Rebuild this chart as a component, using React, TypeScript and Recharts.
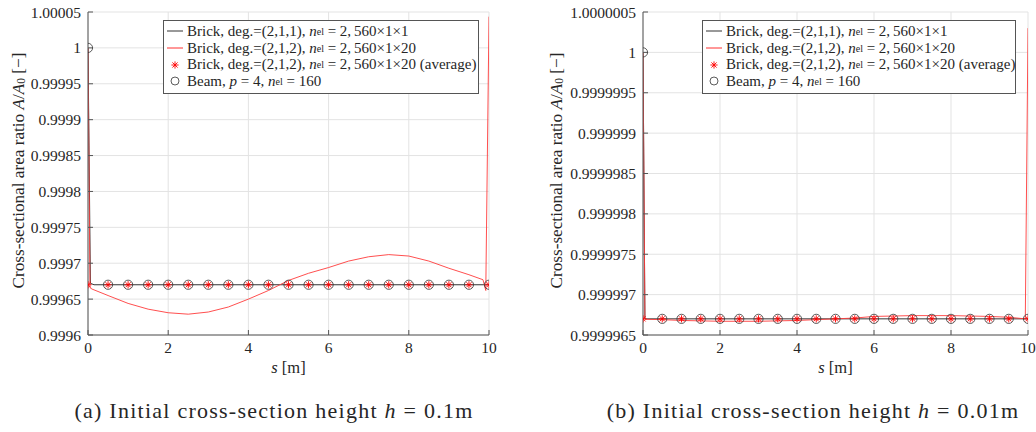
import {
  CartesianGrid,
  ComposedChart,
  Legend,
  Line,
  Scatter,
  XAxis,
  YAxis,
} from "recharts";

const FONT = "'Liberation Serif', 'Times New Roman', serif";
const AXIS_COLOR = "#555";
const TEXT_COLOR = "#262626";

const sTicks = [0, 2, 4, 6, 8, 10];
const sampleS = [0, 0.5, 1, 1.5, 2, 2.5, 3, 3.5, 4, 4.5, 5, 5.5, 6, 6.5, 7, 7.5, 8, 8.5, 9, 9.5, 10];

// (a) h = 0.1 m
const yTicksA = [0.9996, 0.99965, 0.9997, 0.99975, 0.9998, 0.99985, 0.9999, 0.99995, 1, 1.00005];
const brick211S_A = [0, 0.06, 0.15, 10];
const brick211V_A = [1, 0.999672, 0.99967, 0.99967];
const brick212S_A = [0, 0.05, 0.1, 0.5, 1, 1.5, 2, 2.5, 3, 3.5, 4, 4.5, 5, 5.5, 6, 6.5, 7, 7.5, 8, 8.5, 9, 9.5, 9.85, 9.92, 10];
const brick212V_A = [
  1, 0.999666, 0.999664, 0.999655, 0.999644, 0.999636, 0.999631, 0.999629, 0.999632, 0.999639,
  0.99965, 0.999662, 0.999676, 0.999686, 0.999694, 0.999703, 0.999709, 0.999712, 0.99971, 0.999703,
  0.999693, 0.999684, 0.999677, 0.999662, 1.0000435,
];
const averageV_A = [
  0.99967, 0.99967, 0.99967, 0.99967, 0.99967, 0.99967, 0.99967, 0.99967, 0.99967, 0.99967, 0.99967,
  0.99967, 0.99967, 0.99967, 0.99967, 0.99967, 0.99967, 0.99967, 0.99967, 0.99967, 0.99967,
];
const beamV_A = [
  1, 0.99967, 0.99967, 0.99967, 0.99967, 0.99967, 0.99967, 0.99967, 0.99967, 0.99967, 0.99967,
  0.99967, 0.99967, 0.99967, 0.99967, 0.99967, 0.99967, 0.99967, 0.99967, 0.99967, 0.99967,
];

// (b) h = 0.01 m
const yTicksB = [0.9999965, 0.999997, 0.9999975, 0.999998, 0.9999985, 0.999999, 0.9999995, 1, 1.0000005];
const brick211S_B = [0, 0.05, 0.1, 10];
const brick211V_B = [1, 0.9999967, 0.9999967, 0.9999967];
const brick212S_B = [0, 0.05, 0.5, 1, 2, 3, 4, 5, 5.5, 6, 7, 8, 9, 9.5, 9.93, 10];
const brick212V_B = [
  1, 0.999996695, 0.99999669, 0.99999668, 0.99999667, 0.99999667, 0.99999668, 0.9999967,
  0.99999671, 0.99999673, 0.99999674, 0.99999674, 0.99999673, 0.99999672, 0.9999967, 1.0000003,
];
const averageV_B = [
  0.9999967, 0.9999967, 0.9999967, 0.9999967, 0.9999967, 0.9999967, 0.9999967, 0.9999967, 0.9999967,
  0.9999967, 0.9999967, 0.9999967, 0.9999967, 0.9999967, 0.9999967, 0.9999967, 0.9999967, 0.9999967,
  0.9999967, 0.9999967, 0.9999967,
];
const beamV_B = [
  1, 0.9999967, 0.9999967, 0.9999967, 0.9999967, 0.9999967, 0.9999967, 0.9999967, 0.9999967,
  0.9999967, 0.9999967, 0.9999967, 0.9999967, 0.9999967, 0.9999967, 0.9999967, 0.9999967, 0.9999967,
  0.9999967, 0.9999967, 0.9999967,
];

const zip = (s: number[], v: number[]) => s.map((x, i) => ({ s: x, v: v[i] }));

const textStyle = { fontFamily: FONT, fill: TEXT_COLOR };

const Star = (props: any) => {
  const { cx, cy } = props;
  const r = 3.6;
  const d = r * 0.72;
  return (
    <g stroke="#ff0000" strokeWidth={0.9}>
      <line x1={cx - r} y1={cy} x2={cx + r} y2={cy} />
      <line x1={cx} y1={cy - r} x2={cx} y2={cy + r} />
      <line x1={cx - d} y1={cy - d} x2={cx + d} y2={cy + d} />
      <line x1={cx - d} y1={cy + d} x2={cx + d} y2={cy - d} />
    </g>
  );
};

const Ring = (props: any) => (
  <circle cx={props.cx} cy={props.cy} r={4.6} fill="none" stroke="#333" strokeWidth={0.8} />
);

// tick labels drawn by hand so the serif font sticks
const YTick = (props: any) => (
  <text
    x={props.x}
    y={props.y}
    textAnchor="end"
    dominantBaseline="central"
    fontSize={15.5}
    style={textStyle}
  >
    {String(props.payload.value)}
  </text>
);

const XTick = (props: any) => (
  <text x={props.x} y={props.y + 11} textAnchor="middle" fontSize={15.5} style={textStyle}>
    {String(props.payload.value)}
  </text>
);

const Nel = () => (
  <>
    <i>n</i>
    <sub style={{ fontSize: 10, verticalAlign: -2 }}>el</sub>
  </>
);

const LegendBox = () => {
  const row = { display: "flex", alignItems: "center", height: 16.7, whiteSpace: "nowrap" as const };
  const sw = { width: 18, marginRight: 3, flex: "none" };
  return (
    <div
      style={{
        border: "1px solid #555",
        background: "#fff",
        fontFamily: FONT,
        fontSize: 15,
        color: TEXT_COLOR,
        padding: "2px 4px 3px 2px",
        boxSizing: "border-box",
        width: "100%",
      }}
    >
      <div style={row}>
        <svg width={18} height={10} style={sw}>
          <line x1={1} y1={5} x2={17} y2={5} stroke="#333" strokeWidth={1} />
        </svg>
        Brick, deg.=(2,1,1),&nbsp;<Nel />&nbsp;=&nbsp;2,&thinsp;560×1×1
      </div>
      <div style={row}>
        <svg width={18} height={10} style={sw}>
          <line x1={1} y1={5} x2={17} y2={5} stroke="#ff3030" strokeWidth={1} />
        </svg>
        Brick, deg.=(2,1,2),&nbsp;<Nel />&nbsp;=&nbsp;2,&thinsp;560×1×20
      </div>
      <div style={row}>
        <svg width={18} height={10} style={sw}>
          <Star cx={9} cy={5} />
        </svg>
        Brick, deg.=(2,1,2),&nbsp;<Nel />&nbsp;=&nbsp;2,&thinsp;560×1×20 (average)
      </div>
      <div style={row}>
        <svg width={18} height={10} style={sw}>
          <circle cx={9} cy={5} r={4} fill="none" stroke="#333" strokeWidth={0.8} />
        </svg>
        Beam,&nbsp;<i>p</i>&nbsp;=&nbsp;4,&nbsp;<Nel />&nbsp;=&nbsp;160
      </div>
    </div>
  );
};

const yLabel = (x: number) => (props: any) => {
  const vb = props.viewBox;
  const cy = vb.y + vb.height / 2 - 3;
  return (
    <text
      transform={`translate(${x},${cy}) rotate(-90)`}
      textAnchor="middle"
      dominantBaseline="central"
      fontSize={17.2}
      style={textStyle}
    >
      Cross-sectional area ratio <tspan fontStyle="italic">A</tspan>/<tspan fontStyle="italic">A</tspan>
      <tspan fontSize={11.5} dy={3}>0</tspan>
      <tspan dy={-3}> [−]</tspan>
    </text>
  );
};

const xLabel = (props: any) => {
  const vb = props.viewBox;
  return (
    <text x={vb.x + vb.width / 2} y={vb.y + 38} textAnchor="middle" fontSize={16.5} style={textStyle}>
      <tspan fontStyle="italic">s</tspan> [m]
    </text>
  );
};

interface PanelProps {
  left: number;
  width: number;
  axisWidth: number;
  marginRight: number;
  yTicks: number[];
  brick211: { s: number; v: number }[];
  brick212: { s: number; v: number }[];
  average: { s: number; v: number }[];
  beam: { s: number; v: number }[];
  labelX: number;
  legendLeft: number;
  legendWidth: number;
  caption: React.ReactNode;
  captionCenter: number;
}

function Panel(p: PanelProps) {
  const domain = [p.yTicks[0], p.yTicks[p.yTicks.length - 1]];
  return (
    <div style={{ position: "absolute", left: p.left, top: 0, width: p.width, height: 432 }}>
      <ComposedChart
        width={p.width}
        height={390}
        margin={{ top: 12, right: p.marginRight, bottom: 0, left: 0 }}
      >
        <CartesianGrid stroke="#e3e3e3" strokeWidth={1} />
        <XAxis
          type="number"
          dataKey="s"
          domain={[0, 10]}
          ticks={sTicks}
          allowDataOverflow
          height={55}
          tickSize={-5}
          tickMargin={12}
          axisLine={{ stroke: AXIS_COLOR }}
          tickLine={{ stroke: AXIS_COLOR }}
          tick={<XTick />}
          label={{ content: xLabel }}
        />
        <XAxis
          xAxisId="top"
          orientation="top"
          type="number"
          domain={[0, 10]}
          ticks={sTicks}
          allowDataOverflow
          height={0}
          tickSize={-5}
          tick={false}
          axisLine={{ stroke: AXIS_COLOR }}
          tickLine={{ stroke: AXIS_COLOR }}
        />
        <YAxis
          type="number"
          dataKey="v"
          domain={domain}
          ticks={p.yTicks}
          allowDataOverflow
          width={p.axisWidth}
          tickSize={-5}
          tickMargin={12}
          axisLine={{ stroke: AXIS_COLOR }}
          tickLine={{ stroke: AXIS_COLOR }}
          tick={<YTick />}
          label={{ content: yLabel(p.labelX) }}
        />
        <YAxis
          yAxisId="right"
          orientation="right"
          type="number"
          domain={domain}
          ticks={p.yTicks}
          allowDataOverflow
          width={0}
          tickSize={-5}
          tick={false}
          axisLine={{ stroke: AXIS_COLOR }}
          tickLine={{ stroke: AXIS_COLOR }}
        />
        <Legend
          layout="horizontal"
          verticalAlign="middle"
          align="center"
          wrapperStyle={{ left: p.legendLeft, top: 20, width: p.legendWidth }}
          content={() => <LegendBox />}
        />
        <Line
          data={p.brick211}
          dataKey="v"
          type="linear"
          stroke="#333"
          strokeWidth={1}
          dot={false}
          isAnimationActive={false}
        />
        <Line
          data={p.brick212}
          dataKey="v"
          type="linear"
          stroke="#ff3b3b"
          strokeWidth={0.9}
          dot={false}
          isAnimationActive={false}
        />
        <Scatter data={p.beam} dataKey="v" shape={Ring} isAnimationActive={false} />
        <Scatter data={p.average} dataKey="v" shape={Star} isAnimationActive={false} />
      </ComposedChart>
      <div
        style={{
          position: "absolute",
          left: p.captionCenter - 250,
          width: 500,
          top: 398,
          textAlign: "center",
          fontFamily: FONT,
          fontSize: 22,
          letterSpacing: 1.25,
          color: TEXT_COLOR,
          whiteSpace: "nowrap",
        }}
      >
        {p.caption}
      </div>
    </div>
  );
}

export default function App() {
  return (
    <div
      style={{
        position: "absolute",
        left: 0,
        top: 0,
        width: 1036,
        height: 432,
        background: "#fff",
        overflow: "hidden",
      }}
    >
      <Panel
        left={0}
        width={520}
        axisWidth={88}
        marginRight={31}
        yTicks={yTicksA}
        brick211={zip(brick211S_A, brick211V_A)}
        brick212={zip(brick212S_A, brick212V_A)}
        average={zip(sampleS, averageV_A)}
        beam={zip(sampleS, beamV_A)}
        labelX={18}
        legendLeft={163}
        legendWidth={316}
        captionCenter={274}
        caption={
          <>
            (a) Initial cross-section height <i>h</i> = 0.1m
          </>
        }
      />
      <Panel
        left={520}
        width={516}
        axisWidth={123}
        marginRight={8}
        yTicks={yTicksB}
        brick211={zip(brick211S_B, brick211V_B)}
        brick212={zip(brick212S_B, brick212V_B)}
        average={zip(sampleS, averageV_B)}
        beam={zip(sampleS, beamV_B)}
        labelX={36}
        legendLeft={182}
        legendWidth={314}
        captionCenter={293}
        caption={
          <>
            (b) Initial cross-section height <i>h</i> = 0.01m
          </>
        }
      />
    </div>
  );
}
